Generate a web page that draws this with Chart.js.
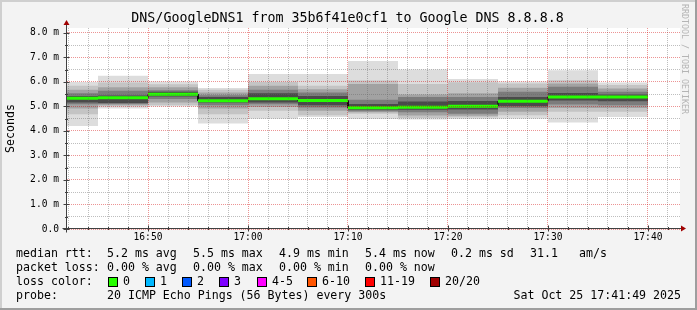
<!DOCTYPE html>
<html>
<head>
<meta charset="utf-8">
<title>DNS/GoogleDNS1 smoke</title>
<script src="https://cdn.jsdelivr.net/npm/chart.js@4.4.0/dist/chart.umd.min.js"></script>
<style>
  body { margin: 0; background: #f3f3f3; }
  canvas { display: block; }
</style>
</head>
<body>
<canvas id="smoke" width="697" height="310"></canvas>
<script>
//--- data (ms). every value covers the 5 min ending at its timestamp
var blockEnds = ['16:45', '16:50', '16:55', '17:00', '17:05', '17:10', '17:15', '17:20', '17:25', '17:30', '17:35', '17:40'];
var median = [5.33, 5.35, 5.50, 5.23, 5.31, 5.24, 4.95, 4.97, 5.01, 5.21, 5.39, 5.38];

// smoke, outer band (min / max ping) down to the inner band around the median
var smokeMax = [6.00, 6.25, 6.02, 5.75, 6.32, 6.32, 6.85, 6.51, 6.12, 6.02, 6.48, 5.98];
var smokeMin = [4.20, 4.92, 5.00, 4.30, 4.50, 4.57, 4.49, 4.47, 4.49, 4.50, 4.34, 4.57];
var band2Hi = [5.84, 5.98, 5.91, 5.68, 6.00, 5.84, 6.06, 5.92, 5.99, 5.94, 6.07, 5.87];
var band2Lo = [4.68, 5.00, 5.05, 4.68, 4.82, 4.64, 4.70, 4.53, 4.56, 4.64, 4.78, 4.78];
var band3Hi = [5.68, 5.78, 5.78, 5.57, 5.84, 5.70, 5.92, 5.49, 5.54, 5.76, 5.94, 5.73];
var band3Lo = [4.92, 5.05, 5.16, 4.92, 4.98, 4.82, 4.76, 4.63, 4.62, 4.78, 4.94, 4.94];
var band4Hi = [5.54, 5.64, 5.66, 5.46, 5.68, 5.57, 5.27, 5.38, 5.38, 5.60, 5.80, 5.60];
var band4Lo = [5.09, 5.10, 5.30, 5.05, 5.09, 4.96, 4.80, 4.76, 4.70, 4.94, 5.08, 5.05];
var band5Hi = [5.43, 5.45, 5.60, 5.38, 5.54, 5.43, 5.10, 5.20, 5.22, 5.39, 5.55, 5.49];
var band5Lo = [5.16, 5.14, 5.41, 5.16, 5.16, 5.05, 4.87, 4.86, 4.88, 5.02, 5.24, 5.21];

var xTickLabels = ['16:50', '17:00', '17:10', '17:20', '17:30', '17:40'];
var yTickLabels = ['0.0', '1.0 m', '2.0 m', '3.0 m', '4.0 m', '5.0 m', '6.0 m', '7.0 m', '8.0 m'];

var lossLabels = ['0', '1', '2', '3', '4-5', '6-10', '11-19', '20/20'];
var lossColors = ['#26ff00', '#00b8ff', '#0059ff', '#7e00ff', '#ff00ff', '#ff5500', '#ff0000', '#a00000'];

var MONO = "'DejaVu Sans Mono', monospace";

//--- helpers
function toMin(s) {
    var p = s.split(':');
    return parseInt(p[0], 10) * 60 + parseInt(p[1], 10);
}

// two points per block so the smoke comes out as flat steps
function steps(values) {
    var pts = [];
    values.forEach(function (v, i) {
        var end = toMin(blockEnds[i]);
        pts.push({ x: end - 5, y: v });
        pts.push({ x: end, y: v });
    });
    return pts;
}

var majorX = xTickLabels.map(toMin);
var xMin = majorX[0] - 8.1;   // graph starts 16:41:54
var xMax = majorX[majorX.length - 1] + 3.2;

var bands = [
    { hi: band5Hi, lo: band5Lo, color: '#4a4a4a' },
    { hi: band4Hi, lo: band4Lo, color: '#7c7c7c' },
    { hi: band3Hi, lo: band3Lo, color: '#a2a2a2' },
    { hi: band2Hi, lo: band2Lo, color: '#c4c4c4' },
    { hi: smokeMax, lo: smokeMin, color: '#dddddd' }
];

var datasets = [{
    data: steps(median),
    borderColor: '#26ff00',
    borderWidth: 3,
    fill: false,
    segment: {
        borderColor: function (ctx) {
            return ctx.p0.parsed.x === ctx.p1.parsed.x ? 'rgba(0,0,0,0)' : '#26ff00';
        }
    }
}, {
    data: steps(median),
    borderColor: '#000000',
    borderWidth: 1,
    fill: false
}];
bands.forEach(function (b) {
    datasets.push({ data: steps(b.hi), borderColor: 'rgba(0,0,0,0)', borderWidth: 0, backgroundColor: b.color, fill: '+1' });
    datasets.push({ data: steps(b.lo), borderColor: 'rgba(0,0,0,0)', borderWidth: 0, fill: false });
});

var RED_GRID = 'rgba(210,0,0,0.42)';
var GRAY_GRID = 'rgba(100,100,100,0.42)';

//--- frame, title, axes, legend in rrdtool style
var rrdPlugin = {
    id: 'rrdLook',
    beforeDraw: function (chart) {
        var c = chart.ctx, a = chart.chartArea, w = chart.width, h = chart.height;
        c.save();
        c.fillStyle = '#f3f3f3';
        c.fillRect(0, 0, w, h);
        c.fillStyle = '#cfcfcf';
        c.fillRect(0, 0, w, 2);
        c.fillRect(0, 0, 2, h);
        c.fillStyle = '#9e9e9e';
        c.fillRect(0, h - 2, w, 2);
        c.fillRect(w - 2, 0, 2, h);
        c.fillStyle = '#ffffff';
        c.fillRect(a.left, a.top, a.right - a.left, a.bottom - a.top);
        c.restore();
    },
    afterDraw: function (chart) {
        var c = chart.ctx, a = chart.chartArea;
        var xs = chart.scales.x, ys = chart.scales.y;
        var ax = Math.round(a.left) - 0.5, ay = Math.round(a.bottom) - 0.5;
        c.save();

        // tick marks on the axes
        c.strokeStyle = '#404040';
        c.lineWidth = 1;
        c.beginPath();
        xs.ticks.forEach(function (t) {
            var px = Math.round(xs.getPixelForValue(t.value)) + 0.5;
            var len = majorX.indexOf(t.value) >= 0 ? 3 : 1.5;
            c.moveTo(px, ay - len);
            c.lineTo(px, ay + len);
        });
        ys.ticks.forEach(function (t) {
            var py = Math.round(ys.getPixelForValue(t.value)) + 0.5;
            var len = Number.isInteger(t.value) ? 3 : 1.5;
            c.moveTo(ax - len, py);
            c.lineTo(ax + len, py);
        });
        c.stroke();

        // axis lines
        c.beginPath();
        c.moveTo(ax, ay + 4);
        c.lineTo(ax, a.top - 4);
        c.moveTo(ax - 4, ay);
        c.lineTo(a.right + 2, ay);
        c.stroke();

        // arrows
        c.fillStyle = '#a00000';
        c.beginPath();
        c.moveTo(ax - 3, a.top - 3);
        c.lineTo(ax + 3, a.top - 3);
        c.lineTo(ax, a.top - 8);
        c.closePath();
        c.fill();
        c.beginPath();
        c.moveTo(a.right + 1, ay - 3);
        c.lineTo(a.right + 1, ay + 3);
        c.lineTo(a.right + 6, ay);
        c.closePath();
        c.fill();

        // title
        c.fillStyle = '#000000';
        c.font = '13.3px ' + MONO;
        c.textAlign = 'center';
        c.textBaseline = 'middle';
        c.fillText('DNS/GoogleDNS1 from 35b6f41e0cf1 to Google DNS 8.8.8.8', 347.5, 19);

        // y axis title
        c.font = '11.6px ' + MONO;
        c.save();
        c.translate(10.5, (a.top + a.bottom) / 2);
        c.rotate(-Math.PI / 2);
        c.fillText('Seconds', 0, 0);
        c.restore();

        // watermark
        c.save();
        c.fillStyle = '#b4b4b4';
        c.font = '8.3px ' + MONO;
        c.textAlign = 'left';
        c.translate(684, 4);
        c.rotate(Math.PI / 2);
        c.fillText('RRDTOOL / TOBI OETIKER', 0, 0);
        c.restore();

        // legend rows
        c.textAlign = 'left';
        c.font = '11.6px ' + MONO;
        var rows = [
            [254, [[16, 'median rtt:'], [107, '5.2 ms avg'], [193, '5.5 ms max'], [279, '4.9 ms min'], [365, '5.4 ms now'], [451, '0.2 ms sd'], [530, '31.1'], [579, 'am/s']]],
            [268, [[16, 'packet loss:'], [107, '0.00 % avg'], [193, '0.00 % max'], [279, '0.00 % min'], [365, '0.00 % now']]],
            [282, [[16, 'loss color:']]],
            [296, [[16, 'probe:'], [107, '20 ICMP Echo Pings (56 Bytes) every 300s']]]
        ];
        rows.forEach(function (r) {
            r[1].forEach(function (item) {
                c.fillText(item[1], item[0], r[0]);
            });
        });
        c.textAlign = 'right';
        c.fillText('Sat Oct 25 17:41:49 2025', 681, 296);

        // loss colour boxes
        var boxX = [108, 145, 182, 219, 257, 307, 365, 430];
        c.textAlign = 'left';
        lossLabels.forEach(function (lab, i) {
            c.fillStyle = lossColors[i];
            c.fillRect(boxX[i], 277, 10, 10);
            c.strokeStyle = '#000000';
            c.strokeRect(boxX[i] + 0.5, 277.5, 9, 9);
            c.fillStyle = '#000000';
            c.fillText(lab, boxX[i] + 15, 282);
        });
        c.restore();
    }
};

//--- chart
var ctx = document.getElementById('smoke');
var chart = new Chart(ctx, {
    type: 'line',
    data: { datasets: datasets },
    options: {
        responsive: false,
        animation: false,
        devicePixelRatio: 1,
        layout: { padding: { left: 0, right: 17, top: 28, bottom: 0 } },
        elements: { point: { radius: 0 }, line: { tension: 0 } },
        plugins: { legend: { display: false }, tooltip: { enabled: false } },
        scales: {
            x: {
                type: 'linear',
                min: xMin,
                max: xMax,
                afterBuildTicks: function (scale) {
                    var t = [];
                    for (var m = Math.ceil(xMin / 2) * 2; m <= xMax; m += 2) t.push({ value: m });
                    scale.ticks = t;
                },
                afterFit: function (scale) { scale.height = 81; },
                ticks: {
                    autoSkip: false,
                    maxRotation: 0,
                    padding: 3,
                    color: '#000000',
                    font: { family: MONO, size: 9.6 },
                    callback: function (value) {
                        var i = majorX.indexOf(value);
                        return i >= 0 ? xTickLabels[i] : '';
                    }
                },
                grid: {
                    z: 1,
                    drawTicks: false,
                    lineWidth: 1,
                    color: function (c) {
                        return majorX.indexOf(c.tick.value) >= 0 ? RED_GRID : GRAY_GRID;
                    }
                },
                border: { display: false, dash: [1, 1] }
            },
            y: {
                min: 0,
                max: 8.2,
                afterBuildTicks: function (scale) {
                    var t = [];
                    for (var v = 0; v <= yTickLabels.length - 1; v += 0.5) t.push({ value: v });
                    scale.ticks = t;
                },
                afterFit: function (scale) { scale.width = 67; },
                ticks: {
                    autoSkip: false,
                    padding: 8,
                    color: '#000000',
                    font: { family: MONO, size: 9.6 },
                    callback: function (value) {
                        return Number.isInteger(value) ? yTickLabels[value] : '';
                    }
                },
                grid: {
                    z: 1,
                    drawTicks: false,
                    lineWidth: 1,
                    color: function (c) {
                        return Number.isInteger(c.tick.value) ? RED_GRID : GRAY_GRID;
                    }
                },
                border: { display: false, dash: [1, 1] }
            }
        }
    },
    plugins: [rrdPlugin]
});
console.log('chart drawn');
</script>
</body>
</html>
